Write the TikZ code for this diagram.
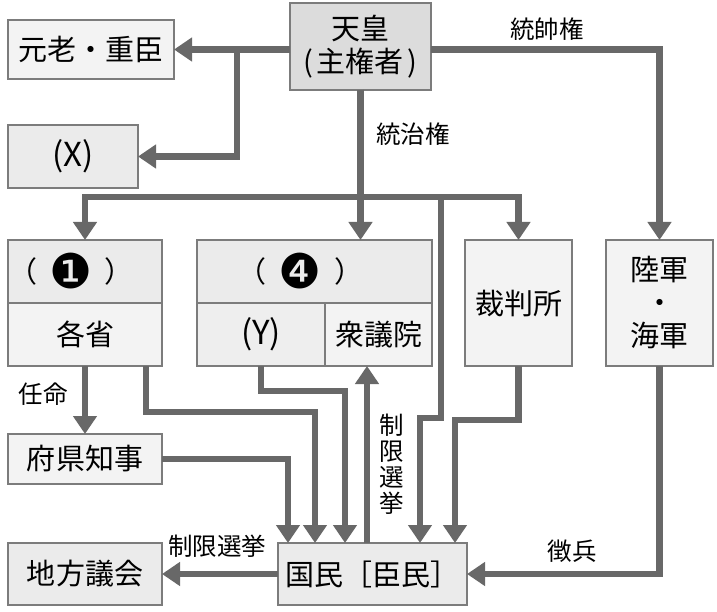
\documentclass[tikz,border=0pt]{standalone}
\usepackage{fontspec}
\setmainfont{Noto Sans CJK JP}
\newfontfamily\djv{DejaVu Sans}
\usetikzlibrary{arrows.meta}
\definecolor{lnc}{HTML}{686868}
\definecolor{bdc}{HTML}{7C7C7C}
\definecolor{fa}{HTML}{DCDCDC}
\definecolor{fb}{HTML}{EBEBEB}
\definecolor{fc}{HTML}{F3F3F3}
\newcommand{\blackno}[1]{\raisebox{-0.42ex}{\djv\fontsize{48}{48}\selectfont #1}}
\begin{document}
\begin{tikzpicture}[x=1pt,y=-1pt,
  box/.style={draw=bdc,line width=1.5pt,fill=fc,inner sep=0pt,outer sep=0pt,align=center,font=\fontsize{29}{33}\selectfont},
  lbl/.style={inner sep=0pt,font=\fontsize{24.5}{26}\selectfont},
  conn/.style={draw=lnc,line width=6.5pt},
  arr/.style={conn,-{Triangle[width=23pt,length=18pt]}}]
\useasboundingbox (0,0) rectangle (717,612);
\fill[white] (0,0) rectangle (717,612);
% boxes
\node[box,fill=fa,minimum width=141pt,minimum height=87pt] (tenno) at (360.5,46.5) {天皇\\(\kern4pt主権者\kern4pt)};
\node[box,minimum width=166pt,minimum height=59pt] (genro) at (91,49.5) {元老・重臣};
\node[box,fill=fb,minimum width=130pt,minimum height=63pt] (X) at (73,156.5) {\fontsize{33}{33}\selectfont(X)};
\node[box,fill=fb,minimum width=154pt,minimum height=63pt] (n1top) at (85,271.5) {（\kern12pt\blackno{❶}\kern12pt）\kern28pt};
\node[box,minimum width=154pt,minimum height=63pt] (kakusho) at (85,334.5) {各省};
\node[box,fill=fb,minimum width=235pt,minimum height=63pt] (n4top) at (314.5,271.5) {（\kern12pt\blackno{❹}\kern12pt）\kern28pt};
\node[box,fill=fb!60!fc,minimum width=128pt,minimum height=63pt] (Y) at (261,334.5) {\fontsize{33}{33}\selectfont(Y)};
\node[box,minimum width=107pt,minimum height=63pt] (shugiin) at (378.5,334.5) {衆議院};
\node[box,minimum width=107pt,minimum height=126pt] (saiban) at (518.5,303) {裁判所};
\node[box,minimum width=107pt,minimum height=126pt] (rikugun) at (659.5,303) {陸軍\\・\\海軍};
\node[box,minimum width=154pt,minimum height=50pt] (fuken) at (85,459) {府県知事};
\node[box,fill=fb,minimum width=154pt,minimum height=62pt] (chiho) at (85,574) {地方議会};
\node[box,fill=fb,minimum width=189pt,minimum height=62pt] (kokumin) at (372.5,574) {国民［臣民］};
% junction coordinates
\coordinate (bj) at (237,49.5);
\coordinate (hub) at (360.5,197);
\coordinate (hubR) at (441,197);
\coordinate (k1) at (441,418);
\coordinate (k2) at (420,418);
\coordinate (s1) at (518.5,420);
\coordinate (s2) at (455,420);
\coordinate (a1) at (146,366);
\coordinate (a2) at (146,412);
\coordinate (a3) at (315,412);
\coordinate (y1) at (261,391);
\coordinate (y2) at (345,391);
\coordinate (f1) at (288,459);
\coordinate (up) at (367,543);
% connectors
\draw[arr] (tenno.west |- genro.east) -- (genro.east);
\draw[arr] (bj) |- (X.east);
\draw[conn] (tenno.south) -- (hub);
\draw[arr] (hub) -| (n1top.north);
\draw[arr] (tenno.south) -- (tenno.south |- n4top.north);
\draw[arr] (hub) -| (saiban.north);
\draw[arr] (hubR) -- (k1) -- (k2) -- (k2 |- kokumin.north);
\draw[arr] (saiban.south) -- (s1) -- (s2) -- (s2 |- kokumin.north);
\draw[arr] (tenno.east |- genro.east) -| (rikugun.north);
\draw[arr] (rikugun.south) |- (kokumin.east);
\draw[arr] (kakusho.south) -- (fuken.north);
\draw[arr] (a1) -- (a2) -- (a3) -- (a3 |- kokumin.north);
\draw[arr] (Y.south) -- (y1) -- (y2) -- (y2 |- kokumin.north);
\draw[arr] (fuken.east) -- (f1) -- (f1 |- kokumin.north);
\draw[arr] (up) -- (up |- shugiin.south);
\draw[arr] (kokumin.west) -- (chiho.east);
% labels
\node[lbl] (l1) at (547,29) {統帥権};
\node[lbl] (l2) at (413,134) {統治権};
\node[lbl] (l3) at (43,394) {任命};
\node[lbl] (l4) at (217,546) {制限選挙};
\node[lbl,align=center] (l5) at (392,464) {制\\限\\選\\挙};
\node[lbl] (l6) at (572,551) {徴兵};
\end{tikzpicture}
\end{document}
